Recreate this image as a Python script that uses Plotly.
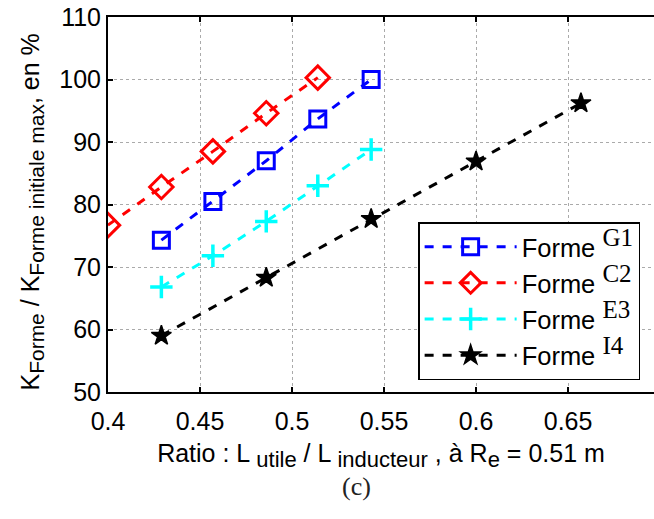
import plotly.graph_objects as go

x_g1 = [0.429, 0.457, 0.486, 0.514, 0.543]
y_g1 = [74.3, 80.5, 87.0, 93.7, 100.0]
x_c2 = [0.400, 0.429, 0.457, 0.486, 0.514]
y_c2 = [76.7, 82.8, 88.5, 94.6, 100.3]
x_e3 = [0.429, 0.457, 0.486, 0.514, 0.543]
y_e3 = [66.8, 71.8, 77.3, 83.0, 88.8]
x_i4 = [0.429, 0.486, 0.543, 0.600, 0.657]
y_i4 = [59.0, 68.3, 77.7, 86.9, 96.2]

names = ["G1", "C2", "E3", "I4"]
serif = "Liberation Serif, Times New Roman, serif"
sans = "Liberation Sans, Arial, sans-serif"


def lab(s):
    return ('Forme <sup><span style="font-family:Liberation Serif;font-size:25px">'
            + s + '</span></sup>')


def sub(s, size):
    return '<sub><span style="font-size:%dpx">%s</span></sub>' % (size, s)


fig = go.Figure()
fig.add_trace(go.Scatter(x=x_g1, y=y_g1, mode="lines+markers", name=lab(names[0]),
                         line=dict(color="#0000ff", width=3, dash="dash"),
                         marker=dict(symbol="square-open", size=16, color="#0000ff",
                                     line=dict(width=3, color="#0000ff"))))
fig.add_trace(go.Scatter(x=x_c2, y=y_c2, mode="lines+markers", name=lab(names[1]),
                         line=dict(color="#ff0000", width=3, dash="dash"),
                         marker=dict(symbol="diamond-open", size=18, color="#ff0000",
                                     line=dict(width=3, color="#ff0000"))))
fig.add_trace(go.Scatter(x=x_e3, y=y_e3, mode="lines+markers", name=lab(names[2]),
                         line=dict(color="#00ffff", width=3, dash="dash"),
                         marker=dict(symbol="cross-thin-open", size=16, color="#00ffff",
                                     line=dict(width=3.5, color="#00ffff"))))
fig.add_trace(go.Scatter(x=x_i4, y=y_i4, mode="lines+markers", name=lab(names[3]),
                         line=dict(color="#000000", width=3, dash="dash"),
                         marker=dict(symbol="star", size=15, color="#000000",
                                     line=dict(width=1.5, color="#000000"))))

tickfont = dict(family=sans, size=25, color="black")

xtitle = ("Ratio : L " + sub("utile", 22) + " / L " + sub("inducteur", 22)
          + " , à R" + sub("e", 22) + " = 0.51 m")
ytitle = "K" + sub("Forme", 21) + " / K" + sub("Forme initiale max", 21) + ", en %"

fig.update_layout(
    width=654, height=519,
    margin=dict(l=108, r=0, t=17, b=127, autoexpand=False),
    plot_bgcolor="white", paper_bgcolor="white",
    font=dict(family=sans, size=24, color="black"),
    showlegend=True,
    legend=dict(x=0.568, y=0.453, xanchor="left", yanchor="top",
                bgcolor="white", bordercolor="black", borderwidth=1.5,
                font=dict(family=sans, size=25.5),
                tracegroupgap=0, itemwidth=92),
    xaxis=dict(range=[0.4, 0.6967], tickvals=[0.4, 0.45, 0.5, 0.55, 0.6, 0.65],
               ticktext=["0.4", "0.45", "0.5", "0.55", "0.6", "0.65"],
               showgrid=True, gridcolor="#aaaaaa", griddash="dot", gridwidth=1,
               showline=True, linecolor="black", linewidth=2, mirror="ticks",
               ticks="inside", ticklen=5, tickcolor="black", tickwidth=2,
               tickfont=tickfont, zeroline=False, automargin=False,
               ticklabelstandoff=6,
               title=dict(text=xtitle, font=dict(family=sans, size=25),
                          standoff=10)),
    yaxis=dict(range=[50, 110], tickvals=[50, 60, 70, 80, 90, 100, 110],
               showgrid=True, gridcolor="#aaaaaa", griddash="dot", gridwidth=1,
               showline=True, linecolor="black", linewidth=2,
               ticks="inside", ticklen=5, tickcolor="black", tickwidth=2,
               tickfont=tickfont, zeroline=False, automargin=False),
    annotations=[
        dict(text=ytitle, x=-0.14, y=0.48, xref="paper", yref="paper",
             xanchor="center", yanchor="middle", showarrow=False, textangle=-90,
             font=dict(family=sans, size=25, color="black")),
        dict(text="(c)", x=0.456, y=-0.251, xref="paper", yref="paper",
             xanchor="center", yanchor="middle", showarrow=False,
             font=dict(family=serif, size=26, color="#222222")),
    ],
)

fig.write_html("out.html", config={"displayModeBar": False},
               post_script="document.body.style.margin='0';document.body.style.overflow='hidden';")
